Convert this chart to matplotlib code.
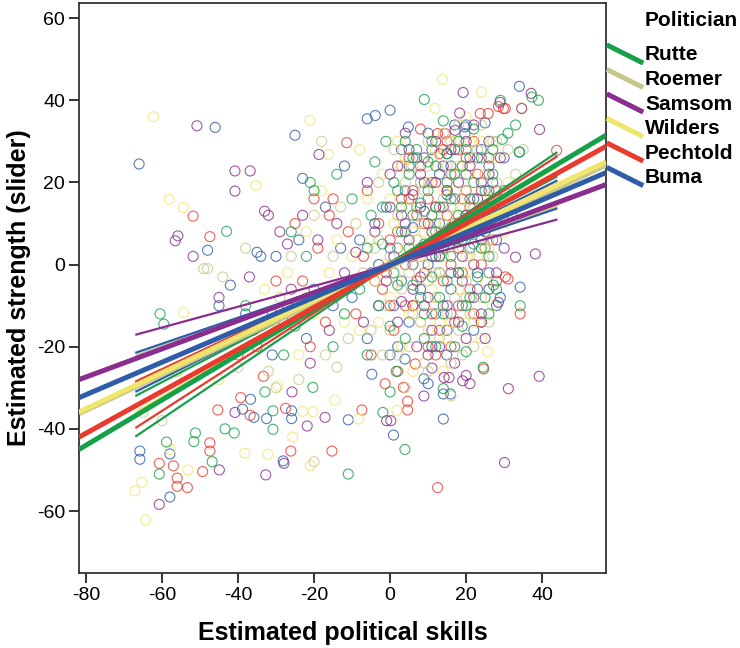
import numpy as np
import matplotlib
matplotlib.use('Agg')
import matplotlib.pyplot as plt
from matplotlib.lines import Line2D

plt.rcParams['font.family'] = ['Liberation Sans', 'DejaVu Sans']
plt.rcParams['axes.unicode_minus'] = False

# politicians, colours (legend order)
politicians = ['Rutte', 'Roemer', 'Samsom', 'Wilders', 'Pechtold', 'Buma']
colors = ['#17a04a', '#c8c88c', '#8a2d8e', '#f0e66e', '#ea3a2e', '#2e5ca8']

# scatter points (x = political skills, y = strength)
rutte_pts = [(-60.5, -12), (-59.5, -14.5), (-43, 8.1), (-58.8, -43.2), (-60.7, -51), (-51.6, -43.1),
             (-51.2, -41), (-46.8, -48), (-43.4, -40), (-41, -41), (-32.9, -31), (-30.8, -35.6),
             (-30.8, -40.1), (-20.3, -29.9), (-11, -51), (3.9, -45), (-1.9, -36), (14, -30.2),
             (24.5, -25), (20, -21.2), (0, -31), (1.6, -26), (9, 40.2), (29, 40), (39, 40),
             (37.3, 40.8), (34, 27.4), (27.2, -5), (34.2, -10), (-1.1, 30), (31, 32), (29.5, 30.5),
             (33, 34), (-8, -6), (-5, 12), (-3, -10), (-2, 5), (0, -15), (1, 20), (2, 18), (3, 8),
             (4, -18), (5, 22), (6, -5), (7, 3), (7, 28), (8, 15), (9, -12), (10, 25), (11, 30),
             (12, 8), (12, -20), (13, -8), (14, 35), (15, 20), (16, 2), (16, 9), (17, 22), (18, 12),
             (18, -2), (19, -15), (20, 28), (21, 16), (21, -8), (22, 5), (23, -3), (24, 26), (25, 18),
             (26, 2), (28, 10), (30, 18), (32, 12), (-10, 16), (-6, -22), (-12, -12), (-14, 22),
             (-15, -20), (-18, -8), (-22, 2), (-25, -15), (-26, 8), (-28, -22), (-35, -20), (-38, -10),
             (4, 30), (9, 5), (13, 14), (17, -20), (24, 12), (27, 22), (6, 12), (11, -3), (19, 6),
             (2, -5), (-4, 25), (15, 27), (22, 33), (26, -12), (-21, 20), (-20, 18), (-6, 4),
             (3, 14), (5, 4), (8, -8), (10, 18), (12, 24), (14, -12), (16, 16), (18, 30), (20, -10),
             (22, 20), (24, 4), (26, 14), (28, -6), (1, -2), (6, 26), (9, -18), (11, 12), (13, 2),
             (15, -4), (17, 8), (19, 24), (23, 12), (25, -8), (27, 28), (-2, 14)]

roemer_pts = [(-48, -1), (-49, -1), (-44, -3), (-60, -38), (-30, -30), (-20, -48), (10, -26), (2, -22),
              (16, -32), (-14, -25), (35, 28), (27, 30), (-56, -26), (-65, -36), (-40, -25), (-9, 10),
              (-7, -2), (-5, -16), (-3, 20), (-1, -10), (0, 2), (2, 12), (3, -6), (5, -20), (6, 24),
              (7, 6), (8, -14), (9, 18), (10, -4), (11, 26), (12, 10), (13, -18), (14, 2), (15, 24),
              (16, 14), (17, -8), (18, 34), (19, 4), (20, 18), (21, -12), (22, 26), (23, 10), (24, -8),
              (25, 22), (27, 2), (29, 14), (31, 28), (-11, -18), (-13, 14), (-15, 2), (-17, -22),
              (-20, 12), (-22, -8), (-24, -28), (-26, 2), (-29, -8), (-32, -26), (-38, 4), (4, -30),
              (10, 30), (16, -24), (22, -20), (28, 30), (-4, 4), (7, 14), (12, -2), (18, -16), (24, 14),
              (1, 28), (-2, -22), (14, 32), (26, 6), (-18, 30), (33, 22), (20, -4), (8, 2),
              (2, 4), (4, 20), (6, -12), (8, 10), (10, 24), (12, -8), (14, 16), (16, 30), (18, 6),
              (20, -8), (22, 14), (24, 34), (26, -14), (28, 20), (0, -16), (5, -2), (9, -24), (13, 8),
              (15, -12), (17, 22), (21, 2), (23, 28), (25, 4), (-3, 6), (19, -22)]

samsom_pts = [(-50.8, 33.8), (-18.7, 26.8), (-40.8, 22.8), (-36.8, 22.8), (-40.8, 17.9), (-55.8, 7),
              (-56.5, 5.8), (-51.8, 2), (-60.7, -58.4), (-44.9, -50), (-40.8, -36), (-32.7, -51.2),
              (-27.9, -48.4), (-25.8, -31), (-21.8, -39.3), (-17.1, -37.2), (39.2, -27.2), (31.1, -30.2),
              (30.1, -48.2), (-0.9, -38), (0.2, -38), (8.9, -32), (19.1, -28.3), (21, -29), (20, -27),
              (14.2, -27.5), (15.5, -27.5), (11, -25.2), (19.2, 41.9), (28.9, 39.5), (34.6, 38),
              (39.3, 32.9), (37.1, 41.7), (18.3, 36.9), (17.1, 32.7), (38.2, 2.6), (33, 1.8), (28.5, -9.2),
              (-9, 3), (-7, -14), (-4, 8), (-1, -4), (0, 14), (2, 24), (3, -9), (5, 6), (6, 17), (8, -3),
              (9, 26), (10, 10), (11, -16), (12, 20), (13, 2), (14, 14), (15, -10), (16, 28), (17, 6),
              (18, 20), (19, -4), (20, 12), (21, 24), (22, 0), (23, 16), (24, -12), (25, 8), (26, 22),
              (27, 14), (28, -2), (29, 26), (30, 4), (-12, -2), (-14, 10), (-16, -16), (-19, 6),
              (-21, -24), (-23, 12), (-26, -6), (-29, 8), (-31, -12), (-33, 13), (-32, 12), (-45, -8),
              (-27, 5), (-37, -3), (4, 32), (7, -20), (12, 30), (18, -14), (22, 34), (26, 30), (1, 2),
              (-6, 20), (10, -8), (14, 4), (20, -18), (3, 12), (8, 22), (16, -2),
              (2, -14), (4, 10), (6, -6), (8, 14), (10, -22), (12, 2), (14, 24), (16, -12), (18, 8),
              (20, 30), (22, -8), (24, 20), (26, -6), (28, 12), (0, 22), (5, 28), (9, -10), (11, 8),
              (13, -20), (15, 18), (17, -24), (19, 2), (23, 26), (25, -18), (-3, -10)]

wilders_pts = [(-62.2, 36), (-21.1, 35.1), (-16.2, 26.8), (-35.3, 19.3), (-58.1, 15.9), (-54.4, 13.9),
               (-54.3, -11.7), (-64.3, -62.2), (-67.1, -55.1), (-65.3, -53), (-57.8, -45), (-53.2, -50),
               (-38.2, -45.9), (-32.2, -46.2), (-29.5, -29.5), (-23, -35.7), (-25.6, -42), (-21, -49),
               (-20.3, -35.8), (-14.5, -33), (-8.3, -37.6), (1.8, -35.5), (25.6, -21.2), (13.8, 45.1),
               (24, 42), (11.8, 38), (34.6, 38.2), (-10, 2), (-8, -16), (-6, 16), (-4, -4), (-2, 22),
               (0, -8), (1, 10), (3, -20), (4, 4), (5, 14), (7, -10), (8, 20), (9, 0), (10, -16), (11, 12),
               (12, 28), (13, -2), (14, 18), (15, -18), (16, 8), (17, 30), (18, -6), (19, 14), (20, 2),
               (21, 22), (22, -14), (23, 8), (24, 30), (25, -4), (26, 16), (28, 26), (30, 8), (-12, -14),
               (-14, 6), (-16, -2), (-18, 18), (-20, -12), (-22, 8), (-24, -22), (-27, -2), (-30, -16),
               (-33, -6), (-40, -18), (-45, -28), (2, 30), (6, -26), (14, -26), (20, 36), (27, -10),
               (31, 20), (-3, -14), (9, 8), (13, 6), (19, 24), (-8, 28), (3, 24), (11, -6), (17, 18),
               (23, 2), (-1, 0),
               (2, -4), (4, 26), (6, 8), (8, -14), (10, 20), (12, -10), (14, 10), (16, -14), (18, 24),
               (20, -2), (22, 14), (24, -18), (26, 4), (28, 14), (0, 16), (5, -12), (7, 2), (11, 26),
               (13, -14), (15, 4), (17, 12), (19, -12), (21, 30), (25, 22), (-5, 6)]

pechtold_pts = [(-11.4, 29.7), (-51.8, 11.8), (-47.4, 6.8), (-60.7, -48.4), (-57, -49), (-56, -52),
                (-56, -54), (-53.3, -54.3), (-49.3, -50.4), (-47.4, -43.4), (-47.4, -45.4), (-45.3, -35.4),
                (-39.3, -32.4), (-36.8, -36.7), (-33.3, -27.2), (-26.1, -45.4), (-27.5, -35), (-15.3, -45.4),
                (-7.4, -35.4), (12.5, -54.3), (4.6, -33.3), (4.6, -35.4), (24.6, -25.4), (3.5, -29.9),
                (-1.3, -29), (6.6, -24.2), (28.5, 38.5), (30.3, 38), (43.8, 27.8), (30.3, -3), (31, -3.5),
                (34.2, -12), (23.7, 36.8), (25.8, 36.8), (14.5, 31.9), (12.5, 31.9), (29.8, 38),
                (-9, -12), (-7, 2), (-5, -22), (-3, 10), (-2, -6), (0, 6), (1, -16), (3, 16), (4, 0),
                (5, 26), (6, -10), (7, 12), (8, 24), (9, -2), (10, 16), (11, -12), (12, 6), (13, 27),
                (14, -4), (15, 12), (16, 22), (17, -14), (18, 4), (19, 16), (20, 26), (21, -6), (22, 10),
                (23, 22), (24, 0), (25, 14), (26, 26), (27, 6), (28, 18), (-11, 8), (-13, -6), (-15, 16),
                (-17, -14), (-19, 4), (-21, -20), (-23, -4), (-25, 10), (-28, -14), (-30, -4), (-36, -16),
                (-40, -22), (5, 16), (10, 4), (15, 18), (18, 28), (22, -12), (2, -26), (12, -22), (-6, 18),
                (8, 33), (16, -20), (20, 8), (24, 18), (-1, -2), (6, 2), (11, 20), (-20, 16), (-16, 12),
                (2, 8), (4, -10), (6, 18), (8, 4), (10, -20), (12, 14), (14, 28), (16, 0), (18, -10),
                (20, 18), (22, 30), (24, -14), (26, 10), (28, -4), (0, -10), (3, 24), (7, -4), (9, 10),
                (13, -16), (15, 30), (17, 10), (19, -2), (21, 14), (25, 4), (-4, -4)]

buma_pts = [(-66, 24.5), (-46, 33.4), (-25, 31.5), (-48, 3.5), (-65.8, -45.4), (-65.8, -47.4),
            (-57.9, -46.1), (-57.9, -56.6), (-38.8, -35.2), (-36.7, -32.8), (-35.8, -37.2), (-32.5, -37.5),
            (-25.9, -35.6), (-25.9, -37.5), (-28.1, -47.8), (-11, -37.8), (0.9, -41.5), (14, -37.6),
            (15.9, -31.5), (14, -31.5), (14.9, -22), (8.9, -27.8), (10, -29), (-4.8, -26.7), (3.9, -23),
            (34, 43.4), (0, 37.6), (-3.9, 36.3), (-6, 35.5), (34, 27.4), (34.2, -5.5), (4.8, 33.5),
            (19.7, 31.9), (19.7, 33.5), (25, 34.5), (-35, 3), (-34, 2), (-38, -12), (-42, -5), (-45, -10),
            (-10, -8), (-8, 6), (-6, -18), (-3, 0), (-1, 14), (1, -10), (2, 4), (4, 18), (5, -14), (6, 9),
            (7, 26), (8, -6), (9, 13), (10, 32), (11, 2), (12, -12), (13, 22), (14, 6), (15, 17), (16, -6),
            (17, 28), (18, 10), (19, -10), (20, 22), (21, 4), (22, 16), (23, -6), (24, 28), (25, 12),
            (26, -2), (27, 20), (28, 6), (30, 26), (-13, 4), (-15, -10), (-17, 14), (-20, -6), (-22, -18),
            (-24, 6), (-27, -10), (-30, 2), (-31, -22), (3, 28), (11, -20), (17, 34), (24, -14), (29, -8),
            (0, -22), (6, 0), (13, -2), (20, 34), (-4, 10), (9, 20), (15, 27), (26, 24), (-23, 21), (-12, 24),
            (2, -20), (4, 8), (6, -10), (8, 20), (10, 0), (12, 14), (14, -10), (16, 24), (18, -2),
            (20, 12), (22, -16), (24, 6), (26, 18), (28, -10), (0, 4), (3, -4), (5, 24), (7, 14),
            (11, 28), (13, 10), (15, -16), (17, 16), (21, 26), (23, -2), (-5, -2)]

points = [rutte_pts, roemer_pts, samsom_pts, wilders_pts, pechtold_pts, buma_pts]

# total fit lines (over full x range): value at left edge / right edge
thick_left = [-45, -36.3, -28, -35.9, -42, -32.4]
thick_right = [31.5, 24.2, 19.5, 25, 28.8, 22.4]
# subgroup fit lines (x from -67 to 44), two per politician
thin_x = [-67, 44]
thin_a = [(-41.9, 27.4), (-22.2, 14.2), (-17.1, 11), (-23, 14.6), (-39.8, 26.4), (-21.5, 13.7)]
thin_b = [(-32, 21.5), (-36.5, 24), (-28.8, 19), (-36, 23.8), (-28.5, 19.7), (-31, 20.5)]

xlim = (-81.8, 56.8)
ylim = (-75.1, 63.7)

fig = plt.figure(figsize=(7.4, 6.48), dpi=100)
ax = fig.add_axes([0.1068, 0.1157, 0.7122, 0.8797])

# scatter
for i in [5, 4, 3, 2, 1, 0]:
    p = np.array(points[i])
    ax.scatter(p[:, 0], p[:, 1], s=52, facecolors='none', edgecolors=colors[i],
               linewidths=0.8, alpha=0.8, zorder=2)

# thin subgroup lines
for i in range(6):
    ax.plot(thin_x, thin_a[i], color=colors[i], lw=1.6, zorder=3, solid_capstyle='butt')
    ax.plot(thin_x, thin_b[i], color=colors[i], lw=1.6, zorder=3, solid_capstyle='butt')

# thick total lines
for i in range(6):
    ax.plot(xlim, [thick_left[i], thick_right[i]], color=colors[i], lw=3.6, zorder=4,
            solid_capstyle='butt')

ax.set_xlim(xlim)
ax.set_ylim(ylim)
ax.set_xticks([-80, -60, -40, -20, 0, 20, 40])
ax.set_yticks([-60, -40, -20, 0, 20, 40, 60])
ax.tick_params(labelsize=14, length=7, width=1.4, color='#333333', pad=3)
for s in ax.spines.values():
    s.set_color('#333333')
    s.set_linewidth(1.3)

ax.set_xlabel('Estimated political skills', fontsize=18, fontweight='bold', labelpad=12)
ax.set_ylabel('Estimated strength (slider)', fontsize=18, fontweight='bold', labelpad=4)

# legend outside on the right
W, H = 740.0, 648.0
fig.text(645 / W, 1 - 21 / H, 'Politician', fontsize=15, fontweight='bold', ha='left', va='center')
for i, name in enumerate(politicians):
    yc = 55 + 24.5 * i
    fig.add_artist(Line2D([609 / W, 641 / W], [1 - (yc - 9) / H, 1 - (yc + 7) / H],
                          color=colors[i], lw=3.6, transform=fig.transFigure))
    fig.text(645 / W, 1 - yc / H, name, fontsize=15, fontweight='bold', ha='left', va='center')

fig.savefig('out.png', dpi=100)
